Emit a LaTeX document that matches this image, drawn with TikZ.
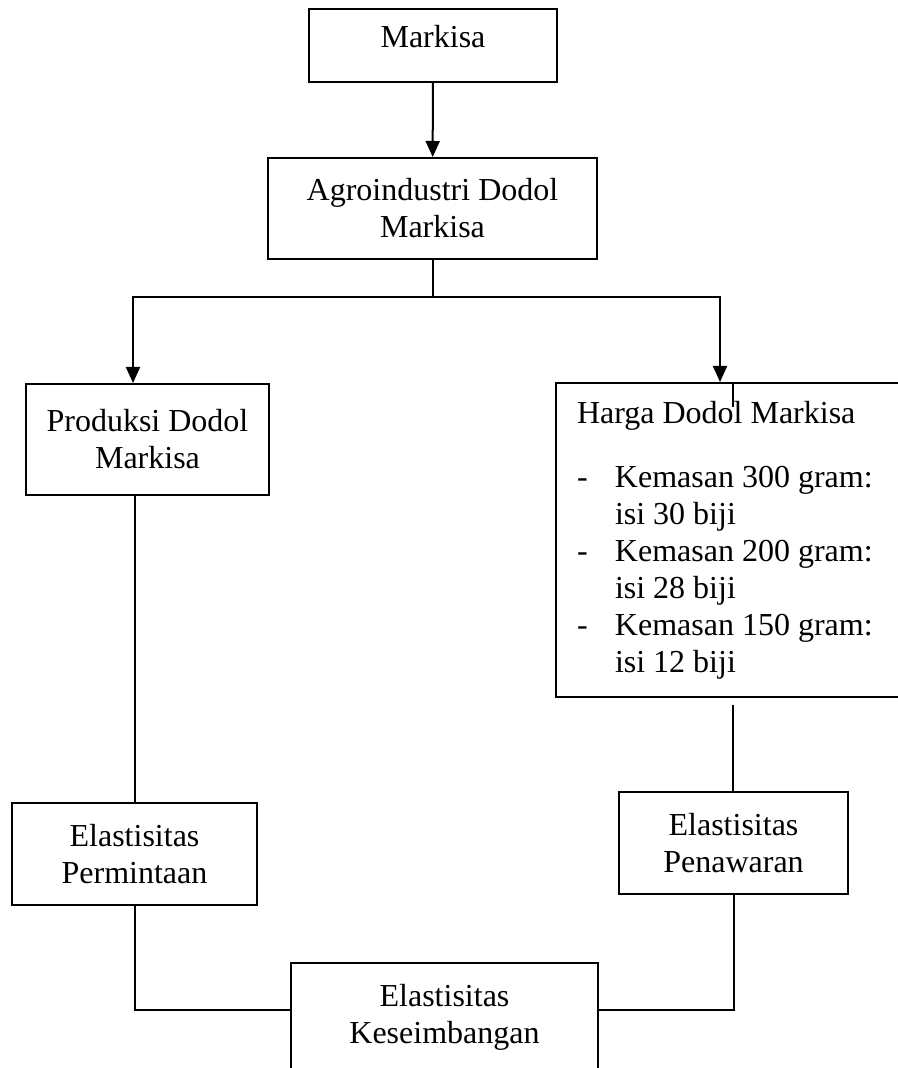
\documentclass[tikz,border=0pt]{standalone}
\usepackage{fontspec}
\setmainfont{Liberation Serif}
\usetikzlibrary{arrows.meta}
\newlength{\du}
\setlength{\du}{0.375pt}
\definecolor{dialinecolor}{rgb}{0.000000, 0.000000, 0.000000}

\begin{document}
\begin{tikzpicture}[x=1\du,y=-1\du,line width=2\du,draw=dialinecolor,
  kotak/.style={draw,rectangle,align=center,inner sep=0pt,
    font=\fontsize{12}{13.875}\selectfont},
  panah/.style={-{Triangle[width=5.25pt,length=6pt]}}]
\useasboundingbox (0,0) rectangle (897,1068);
% kotak-kotak
\node[kotak,minimum width=248\du,minimum height=73\du,text height=22\du,text depth=17\du] (markisa) at (433,45.5){Markisa};
\node[kotak,minimum width=329\du,minimum height=101\du] (agro) at (432.5,208.5){Agroindustri Dodol\\Markisa};
\node[kotak,minimum width=243\du,minimum height=111\du] (produksi) at (147.5,439.5){Produksi Dodol\\Markisa};
\node[kotak,align=flush left,text width=312\du,inner xsep=21\du,minimum height=314\du] (harga) at (733,540){Harga Dodol Markisa\\[27\du]
\makebox[38\du][l]{-}Kemasan 300 gram:\\
\hspace*{38\du}isi 30 biji\\
\makebox[38\du][l]{-}Kemasan 200 gram:\\
\hspace*{38\du}isi 28 biji\\
\makebox[38\du][l]{-}Kemasan 150 gram:\\
\hspace*{38\du}isi 12 biji};
\node[kotak,minimum width=245\du,minimum height=102\du] (permintaan) at (134.5,854){Elastisitas\\Permintaan};
\node[kotak,minimum width=229\du,minimum height=102\du] (penawaran) at (733.5,843){Elastisitas\\Penawaran};
\node[kotak,minimum width=307\du,minimum height=108\du] (seimbang) at (444.5,1017){Elastisitas\\Keseimbangan};
% garis
\coordinate (cabang) at (432.5,297);
\draw[panah] (markisa) -- (agro);
\draw (agro.south) -- (cabang);
\draw[panah] (cabang) -| ([xshift=-14.5\du]produksi.north);
\draw[panah] (cabang) -| ([xshift=-13\du]harga.north);
\draw (harga.north) -- ++(0,25);
\draw (produksi.south -| permintaan.north) -- (permintaan.north);
\draw[shorten <=7\du] (harga.south) -- (penawaran.north -| harga.south);
\draw (permintaan.south) |- ([yshift=7\du]seimbang.west);
\draw ([yshift=7\du]seimbang.east) -| (penawaran.south);
\end{tikzpicture}
\end{document}
